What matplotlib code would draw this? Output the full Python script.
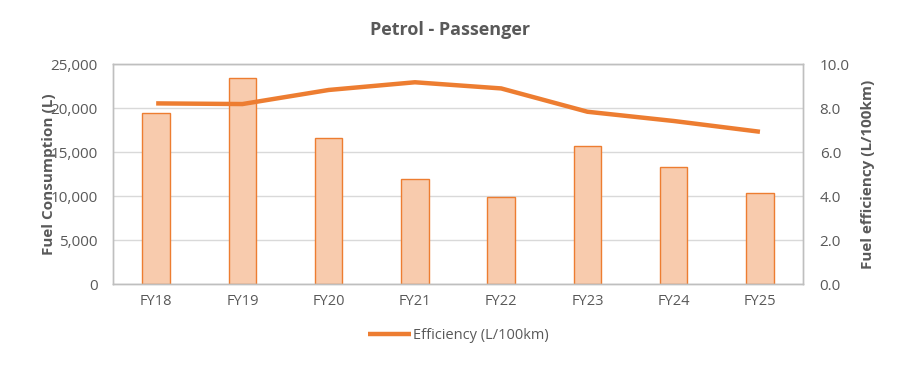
import numpy as np
import matplotlib.pyplot as plt
from matplotlib.ticker import FuncFormatter

# ==========================
# Data
# ==========================
years = ["FY18", "FY19", "FY20", "FY21", "FY22", "FY23", "FY24", "FY25"]
consumption = [19400, 23440, 16630, 11890, 9890, 15680, 13330, 10300]
efficiency = [8.21, 8.18, 8.82, 9.17, 8.89, 7.83, 7.41, 6.92]

orange = "#ED7D31"
peach = "#F8CBAD"
grey_txt = "#595959"
grid = "#D9D9D9"

plt.rcParams['font.family'] = ['Open Sans', 'DejaVu Sans']

fig = plt.figure(figsize=(9, 3.7), dpi=100)
ax = fig.add_axes([0.1256, 0.2324, 0.7667, 0.5946])
ax2 = ax.twinx()

x = np.arange(len(years))
ax.bar(x, consumption, width=0.32, color=peach, edgecolor=orange,
       linewidth=1.0, zorder=2)
ax2.plot(x, efficiency, color=orange, linewidth=3.2,
         solid_capstyle='butt', solid_joinstyle='round', zorder=3)

ax.set_xlim(-0.5, len(years) - 0.5)
ax.set_ylim(0, 25000)
ax2.set_ylim(0, 10)
ax.set_yticks(np.arange(0, 25001, 5000))
ax2.set_yticks(np.arange(0, 10.01, 2))
ax.yaxis.set_major_formatter(FuncFormatter(lambda v, p: f"{v:,.0f}"))
ax2.yaxis.set_major_formatter(FuncFormatter(lambda v, p: f"{v:.1f}"))
ax.set_xticks(x)
ax.set_xticklabels(years)

ax.grid(axis='y', color=grid, linewidth=1.0, zorder=0)
ax.set_axisbelow(True)

for a in (ax, ax2):
    for s in a.spines.values():
        s.set_color("#BFBFBF")
        s.set_linewidth(1.0)
    a.tick_params(length=0, colors=grey_txt, labelsize=11)
ax.tick_params(axis='x', pad=7, labelsize=10.5)
ax.tick_params(axis='y', pad=11)
ax2.tick_params(axis='y', pad=12)

ax.set_ylabel("Fuel Consumption (L)", fontsize=11, fontweight='bold',
              color=grey_txt)
ax.yaxis.set_label_coords(-0.083, 0.5)
ax2.set_ylabel("Fuel efficiency (L/100km)", fontsize=11, fontweight='bold',
               color=grey_txt)
ax2.yaxis.set_label_coords(1.084, 0.5)

fig.text(0.5, 0.918, "Petrol - Passenger", ha='center', va='center',
         fontsize=13, fontweight='bold', color=grey_txt)

ax2.legend(["Efficiency (L/100km)"], loc='center',
           bbox_to_anchor=(0.5, -0.235), frameon=False, fontsize=10.5,
           handlelength=3.0, handletextpad=0.1, labelcolor=grey_txt)

fig.savefig("out.png", dpi=100)
